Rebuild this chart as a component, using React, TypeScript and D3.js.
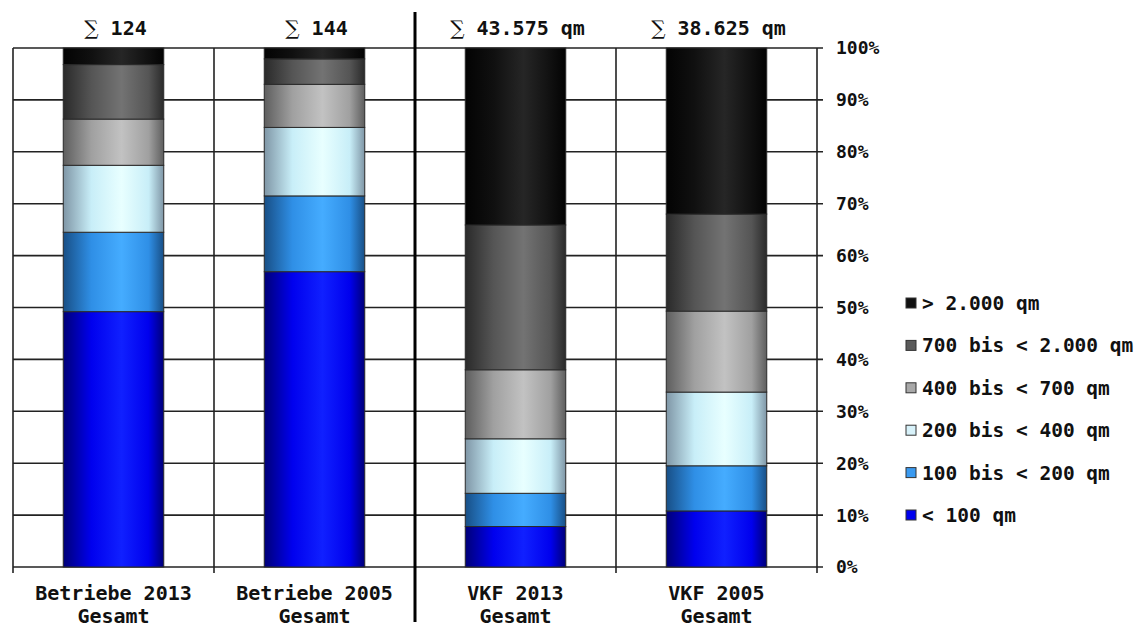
import React from "react";
import * as d3 from "d3";

const categories = ["Betriebe 2013", "Betriebe 2005", "VKF 2013", "VKF 2005"];
const categorySub = ["Gesamt", "Gesamt", "Gesamt", "Gesamt"];
const totals = ["124", "144", "43.575 qm", "38.625 qm"];
const sizeClasses = ["< 100 qm", "100 bis < 200 qm", "200 bis < 400 qm", "400 bis < 700 qm", "700 bis < 2.000 qm", "> 2.000 qm"];
const under100 = [49.2, 56.9, 7.8, 10.8];
const from100to200 = [15.3, 14.6, 6.4, 8.7];
const from200to400 = [12.9, 13.2, 10.5, 14.2];
const from400to700 = [8.9, 8.3, 13.3, 15.6];
const from700to2000 = [10.5, 4.9, 27.9, 18.7];
const over2000 = [3.2, 2.1, 34.1, 32.0];
const yTicks = [0, 10, 20, 30, 40, 50, 60, 70, 80, 90, 100];

const seriesValues = [under100, from100to200, from200to400, from400to700, from700to2000, over2000];
const colors = [
  { dark: "#000078", mid: "#0000ee", light: "#1020ff", flat: "#0000ee" },
  { dark: "#184f86", mid: "#2f8fe6", light: "#45acff", flat: "#3a9af0" },
  { dark: "#7f96a6", mid: "#c8eef8", light: "#e8ffff", flat: "#d8f2fa" },
  { dark: "#5e5e5e", mid: "#a0a0a0", light: "#c2c2c2", flat: "#a8a8a8" },
  { dark: "#2a2a2a", mid: "#555555", light: "#737373", flat: "#5a5a5a" },
  { dark: "#030303", mid: "#101010", light: "#262626", flat: "#111111" },
];

const W = 1137, H = 628;
const left = 13, right = 817, top = 48, bottom = 567;
const FONT = "'DejaVu Sans Mono', monospace";

export default function App() {
  const rows = categories.map((c, i) => {
    const r: any = { cat: c };
    sizeClasses.forEach((s, k) => (r[s] = seriesValues[k][i]));
    return r;
  });
  const stack = d3.stack().keys(sizeClasses)(rows);
  const x = d3.scaleBand().domain(categories).range([left, right]).paddingInner(0.5).paddingOuter(0.25);
  const y = d3.scaleLinear().domain([0, 100]).range([bottom, top]);
  const step = x.step();
  const boundaries = d3.range(categories.length + 1).map((i) => left + i * step);
  const legendY = d3.scalePoint().domain(sizeClasses.slice().reverse()).range([303, 515]);

  return (
    <svg width={W} height={H} style={{ position: "absolute", left: 0, top: 0, background: "#fff" }}>
      <defs>
        {colors.map((c, k) => (
          <linearGradient key={k} id={`g${k}`} x1="0" x2="1" y1="0" y2="0">
            <stop offset="0%" stopColor={c.dark} />
            <stop offset="28%" stopColor={c.mid} />
            <stop offset="58%" stopColor={c.light} />
            <stop offset="85%" stopColor={c.mid} />
            <stop offset="100%" stopColor={c.dark} />
          </linearGradient>
        ))}
      </defs>
      <rect x={0} y={0} width={W} height={H} fill="#fff" />
      {yTicks.map((t) => (
        <line key={t} x1={left} x2={right + 6} y1={y(t)} y2={y(t)} stroke="#222" strokeWidth={1.6} />
      ))}
      {boundaries.map((bx, i) =>
        i === 2 ? null : (
          <line key={i} x1={bx} x2={bx} y1={top} y2={bottom + 6} stroke="#222" strokeWidth={1.6} />
        )
      )}
      {stack.map((s, k) => (
        <g key={k}>
          {s.map((d: any, i: number) => (
            <rect
              key={i}
              x={x(categories[i])}
              y={y(d[1])}
              width={x.bandwidth()}
              height={y(d[0]) - y(d[1])}
              fill={`url(#g${k})`}
              stroke="#2a2a2a"
              strokeWidth={1}
            />
          ))}
        </g>
      ))}
      <line x1={boundaries[2]} x2={boundaries[2]} y1={12} y2={622} stroke="#000" strokeWidth={3} />
      {yTicks.map((t) => (
        <text key={t} x={836} y={y(t)} dy="0.36em" fontFamily={FONT} fontWeight="bold" fontSize={18} fill="#111">
          {t}%
        </text>
      ))}
      {totals.map((t, i) => (
        <text key={i} x={(x(categories[i]) as number) + x.bandwidth() / 2 + 2} y={35} textAnchor="middle" fontFamily={FONT} fontSize={20} fill="#111">
          <tspan fontFamily="'DejaVu Serif', serif" fontWeight="normal">∑</tspan>
          <tspan fontWeight="bold"> {t}</tspan>
        </text>
      ))}
      {categories.map((c, i) => (
        <text key={c} x={(x(c) as number) + x.bandwidth() / 2} textAnchor="middle" fontFamily={FONT} fontWeight="bold" fontSize={20} fill="#111">
          <tspan x={(x(c) as number) + x.bandwidth() / 2} y={600}>{c}</tspan>
          <tspan x={(x(c) as number) + x.bandwidth() / 2} y={623}>{categorySub[i]}</tspan>
        </text>
      ))}
      {sizeClasses.map((s, k) => (
        <g key={s} transform={`translate(906,${legendY(s)})`}>
          <rect x={0} y={-5} width={10} height={10} fill={colors[k].flat} stroke="#333" strokeWidth={1} />
          <text x={16} y={0} dy="0.36em" fontFamily={FONT} fontWeight="bold" fontSize={19.5} fill="#111">
            {s}
          </text>
        </g>
      ))}
    </svg>
  );
}
